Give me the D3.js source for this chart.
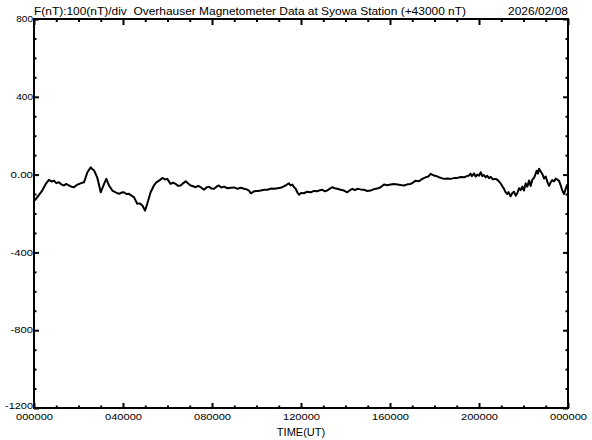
<!DOCTYPE html>
<html>
<head>
<meta charset="utf-8">
<script src="https://cdn.jsdelivr.net/npm/d3@7"></script>
<style>
  html, body { margin: 0; padding: 0; background: #fff; }
  svg { display: block; }
  text { font-family: "Liberation Sans", Arial, sans-serif; fill: #000; white-space: pre; }
</style>
</head>
<body>
<svg id="chart" width="592" height="440"></svg>
<script>
// ---- data (hours UT, F - 43000 nT) ----
const timeHours = [
  0.04,0.15,0.37,0.53,0.67,0.80,0.90,1.00,1.12,1.22,1.35,1.45,1.57,1.68,1.80,1.90,2.02,2.12,2.25,2.40,2.55,2.62,2.70,2.84,3.00,3.15,3.25,3.37,
  3.52,3.67,3.82,3.94,4.04,4.15,4.27,4.38,4.49,4.64,4.75,4.87,4.99,5.09,5.24,5.39,5.50,5.62,5.77,5.88,5.99,6.07,6.14,6.25,6.37,6.48,6.59,6.70,6.82,6.93,7.04,
  7.15,7.27,7.38,7.49,7.64,7.75,7.87,7.98,8.09,8.20,8.31,8.42,8.54,8.70,8.84,9.00,9.14,9.30,9.44,9.56,9.66,9.74,9.89,10.05,10.19,10.35,10.49,10.65,10.79,10.95,11.09,11.20,11.31,11.38,11.46,11.53,11.61,
  11.68,11.76,11.84,11.91,12.02,12.13,12.28,12.44,12.58,12.73,12.85,12.96,13.07,13.18,13.30,13.41,13.52,13.63,13.78,13.93,14.08,14.20,14.31,14.42,14.53,14.68,14.83,14.98,15.13,15.25,15.36,15.47,15.58,15.73,15.88,16.03,16.18,16.33,
  16.48,16.63,16.78,16.93,17.05,17.15,17.30,17.45,17.60,17.72,17.83,17.98,18.10,18.20,18.32,18.43,18.58,18.73,18.88,19.02,19.18,19.33,19.45,
  19.55,19.62,19.68,19.78,19.85,19.92,20.00,20.08,20.15,20.22,20.30,20.37,20.45,20.53,20.62,20.75,20.86,
  20.97,21.05,21.12,21.18,21.27,21.33,21.42,21.50,21.57,21.65,21.72,21.80,21.87,21.95,22.02,22.10,22.17,22.25,22.32,22.40,
  22.47,22.53,22.59,22.65,22.70,22.78,22.85,22.92,23.00,23.08,23.15,23.22,23.29,23.37,23.45,23.52,23.60,23.67,23.74,23.82,
  23.90,23.97
];
const fValues = [
  -133,-116,-82,-48,-27,-36,-31,-44,-39,-50,-56,-48,-56,-62,-65,-55,-48,-44,-39,12,37,28,21,-14,-91,-48,-22,-56,
  -82,-91,-99,-92,-91,-100,-99,-108,-116,-150,-148,-159,-185,-150,-91,-56,-40,-31,-17,-25,-22,-36,-48,-42,-48,-58,-56,-45,-34,-46,-56,
  -60,-65,-58,-65,-78,-66,-62,-72,-73,-62,-56,-66,-62,-70,-68,-66,-73,-68,-73,-76,-82,-96,-86,-84,-82,-78,-78,-72,-73,-70,-68,-62,-56,-50,-45,-56,-51,
  -64,-73,-92,-103,-94,-96,-88,-91,-84,-86,-80,-78,-86,-82,-72,-65,-70,-73,-78,-82,-91,-80,-73,-80,-73,-76,-78,-84,-82,-76,-73,-70,-65,-51,-55,-51,-48,-51,
  -54,-56,-50,-48,-40,-31,-34,-22,-14,-10,4,-5,-8,-14,-18,-22,-20,-22,-18,-17,-12,-14,-8,
  -5,5,-8,6,-10,0,-6,12,-8,-2,-14,-6,-18,-12,-24,-22,-30,
  -45,-60,-72,-88,-100,-90,-112,-95,-88,-108,-96,-70,-80,-62,-82,-45,-62,-30,-58,-25,
  -18,0,20,5,30,15,2,-20,-10,-40,-58,-40,-28,-35,-20,-26,-32,-55,-80,-100,
  -72,-50
];
const yTickValues = [800, 400, 0, -400, -800, -1200];
const yTickLabels = ["800", "400", "0.00", "-400", "-800", "-1200"];
const xTickValues = [0, 4, 8, 12, 16, 20, 24];
const xTickLabels = ["000000", "040000", "080000", "120000", "160000", "200000", "000000"];
const titleText = "F(nT):100(nT)/div  Overhauser Magnetometer Data at Syowa Station (+43000 nT)";
const dateText = "2026/02/08";
const xAxisTitle = "TIME(UT)";

// ---- layout ----
const L = 34, R = 568, T = 19, B = 408;
const svg = d3.select("#chart");
svg.append("rect").attr("width", 592).attr("height", 440).attr("fill", "#fff");

const x = d3.scaleLinear().domain([0, 24]).range([L, R]);
const y = d3.scaleLinear().domain([-1200, 800]).range([B, T]);

const minorY = d3.range(-1200, 801, 100).filter(v => !yTickValues.includes(v));
const minorX = d3.range(0, 25, 1).filter(v => !xTickValues.includes(v));

function styleAxis(g) {
  g.select(".domain").remove();
  g.selectAll("line").attr("stroke", "#000").attr("stroke-width", 2);
}

// left axis
svg.append("g").attr("transform", `translate(${L},0)`)
  .call(d3.axisLeft(y).tickValues(yTickValues).tickSize(-5).tickFormat((d, i) => yTickLabels[i]))
  .call(styleAxis)
  .call(g => g.selectAll("text").attr("x", -1)
    .attr("dy", d => d === -1200 ? "0.05em" : "0.3em")
    .attr("textLength", (d, i) => yTickLabels[i].length * 5.6)
    .attr("lengthAdjust", "spacingAndGlyphs")
    .style("font-size", "9px").style("font-family", "'Liberation Sans', Arial, sans-serif"));
svg.append("g").attr("transform", `translate(${L},0)`)
  .call(d3.axisLeft(y).tickValues(minorY).tickSize(-2.5).tickFormat(""))
  .call(styleAxis);

// right axis
svg.append("g").attr("transform", `translate(${R},0)`)
  .call(d3.axisRight(y).tickValues(yTickValues).tickSize(-5).tickFormat(""))
  .call(styleAxis);
svg.append("g").attr("transform", `translate(${R},0)`)
  .call(d3.axisRight(y).tickValues(minorY).tickSize(-2.5).tickFormat(""))
  .call(styleAxis);

// bottom axis
svg.append("g").attr("transform", `translate(0,${B})`)
  .call(d3.axisBottom(x).tickValues(xTickValues).tickSize(-5).tickFormat((d, i) => xTickLabels[i]))
  .call(styleAxis)
  .call(g => g.selectAll("text").attr("y", 12).attr("dy", 0)
    .attr("textLength", 37).attr("lengthAdjust", "spacingAndGlyphs")
    .style("font-size", "9px").style("font-family", "'Liberation Sans', Arial, sans-serif"));
svg.append("g").attr("transform", `translate(0,${B})`)
  .call(d3.axisBottom(x).tickValues(minorX).tickSize(-2.5).tickFormat(""))
  .call(styleAxis);

// top axis
svg.append("g").attr("transform", `translate(0,${T})`)
  .call(d3.axisTop(x).tickValues(xTickValues).tickSize(-6).tickFormat(""))
  .call(styleAxis);
svg.append("g").attr("transform", `translate(0,${T})`)
  .call(d3.axisTop(x).tickValues(minorX).tickSize(-3).tickFormat(""))
  .call(styleAxis);

// frame
svg.append("rect").attr("x", L).attr("y", T).attr("width", R - L).attr("height", B - T)
  .attr("fill", "none").attr("stroke", "#000").attr("stroke-width", 2);

// data line
const pts = timeHours.map((t, i) => [t, fValues[i]]);
svg.append("path").datum(pts)
  .attr("fill", "none").attr("stroke", "#000").attr("stroke-width", 2)
  .attr("stroke-linejoin", "round")
  .attr("d", d3.line().x(d => x(d[0])).y(d => y(d[1])));

// titles
svg.append("text").attr("x", L).attr("y", 15).style("font-size", "11px")
  .attr("textLength", 432).attr("lengthAdjust", "spacingAndGlyphs").text(titleText);
svg.append("text").attr("x", R).attr("y", 15).attr("text-anchor", "end").style("font-size", "11px")
  .attr("textLength", 60).attr("lengthAdjust", "spacingAndGlyphs").text(dateText);
svg.append("text").attr("x", 301).attr("y", 436).attr("text-anchor", "middle").style("font-size", "11px").text(xAxisTitle);
</script>
</body>
</html>
